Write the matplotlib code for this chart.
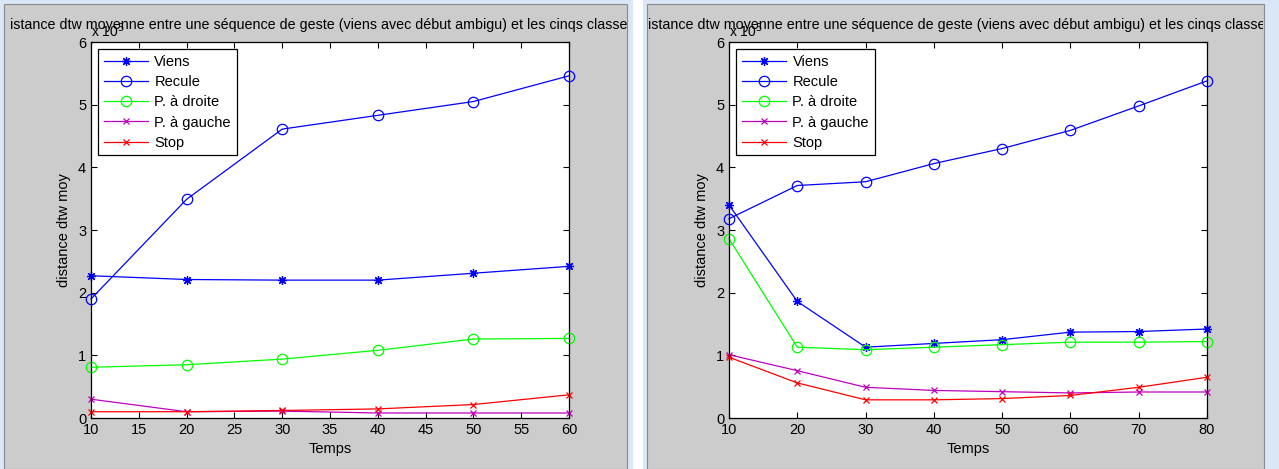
import matplotlib
matplotlib.use("Agg")
import matplotlib.pyplot as plt
from matplotlib.patches import Rectangle

plt.rcParams['font.family'] = ['Liberation Sans', 'DejaVu Sans']

# valeurs (unite : x 10^5)
temps_g = [10, 20, 30, 40, 50, 60]
viens_g = [2.27, 2.21, 2.20, 2.20, 2.31, 2.42]
recule_g = [1.90, 3.49, 4.61, 4.83, 5.05, 5.46]
droite_g = [0.81, 0.85, 0.94, 1.08, 1.26, 1.27]
gauche_g = [0.30, 0.10, 0.11, 0.08, 0.08, 0.08]
stop_g = [0.10, 0.10, 0.12, 0.145, 0.215, 0.37]

temps_d = [10, 20, 30, 40, 50, 60, 70, 80]
viens_d = [3.40, 1.86, 1.13, 1.19, 1.25, 1.37, 1.38, 1.42]
recule_d = [3.18, 3.71, 3.77, 4.06, 4.30, 4.59, 4.98, 5.38]
droite_d = [2.86, 1.13, 1.09, 1.13, 1.17, 1.21, 1.21, 1.22]
gauche_d = [1.01, 0.755, 0.49, 0.44, 0.42, 0.40, 0.415, 0.415]
stop_d = [0.97, 0.56, 0.29, 0.29, 0.31, 0.36, 0.49, 0.65]

xticks_g = [10, 15, 20, 25, 30, 35, 40, 45, 50, 55, 60]
xticks_d = [10, 20, 30, 40, 50, 60, 70, 80]
yticks = [0, 1, 2, 3, 4, 5, 6]

noms = ['Viens', 'Recule', 'P. à droite', 'P. à gauche', 'Stop']
titre = "distance dtw moyenne entre une séquence de geste (viens avec début ambigu) et les cinqs classes"

W, H = 1279, 469
fig = plt.figure(figsize=(W / 100, H / 100), dpi=100, facecolor='#d9e7f6')

# fonds gris des deux fenetres
panneaux = [(4, 627), (647, 1264)]
for x0, x1 in panneaux:
    fig.patches.append(Rectangle((x0 / W, 0), (x1 - x0) / W, (H - 4) / H,
                                 transform=fig.transFigure, facecolor='#cccccc',
                                 edgecolor='#8a8a8a', linewidth=0.8, zorder=-2))
fig.patches.append(Rectangle((633 / W, 0), 10 / W, 1, transform=fig.transFigure,
                             facecolor='white', edgecolor='none', zorder=-2))

# zones ou le titre reste visible (il deborde de la fenetre)
clips = []
for x0, x1 in [(9, 627), (647, 1263)]:
    c = Rectangle((x0 / W, 0), (x1 - x0) / W, 1, transform=fig.transFigure,
                  facecolor='none', edgecolor='none')
    fig.patches.append(c)
    clips.append(c)

styles = [dict(color='b', marker=(8, 2, 0), ms=6.5, mew=0.9),
          dict(color='b', marker='o', ms=7.5, mfc='none', mew=0.9),
          dict(color='#00ff00', marker='o', ms=7.5, mfc='none', mew=0.9),
          dict(color='m', marker='x', ms=4.5, mew=0.9),
          dict(color='r', marker='x', ms=4.5, mew=0.9)]

donnees = [(temps_g, [viens_g, recule_g, droite_g, gauche_g, stop_g], xticks_g, 91),
           (temps_d, [viens_d, recule_d, droite_d, gauche_d, stop_d], xticks_d, 729)]

fs = 10.5
for k, (t, series, xt, xpix) in enumerate(donnees):
    ax = fig.add_axes([xpix / W, (H - 418) / H, 478 / W, 376 / H])
    ax.set_zorder(1)
    for s, nom, st in zip(series, noms, styles):
        ax.plot(t, s, label=nom, lw=0.9, clip_on=False, **st)
    ax.set_xlim(t[0], t[-1])
    ax.set_ylim(0, 6)
    ax.set_xticks(xt)
    ax.set_yticks(yticks)
    ax.tick_params(direction='in', top=True, right=True, length=4, width=0.8,
                   labelsize=fs, pad=3.5, colors='black')
    for sp in ax.spines.values():
        sp.set_linewidth(0.9)
    ax.set_xlabel('Temps', fontsize=fs, labelpad=4)
    ax.set_ylabel('distance dtw moy', fontsize=fs, labelpad=5)
    leg = ax.legend(loc='upper left', fontsize=fs, numpoints=1, fancybox=False,
                    edgecolor='black', framealpha=1, handlelength=3.0,
                    handletextpad=0.45, labelspacing=0.42, borderaxespad=0.5,
                    borderpad=0.4)
    leg.get_frame().set_linewidth(0.9)
    ti = ax.set_title(titre, fontsize=10.3, x=0.475, pad=9)
    ti.set_clip_path(clips[k])
    ax.text(0.0, 1.005, r'x 10$^5$', transform=ax.transAxes, fontsize=10,
            ha='left', va='bottom')

fig.savefig('out.png', dpi=100, facecolor=fig.get_facecolor())
